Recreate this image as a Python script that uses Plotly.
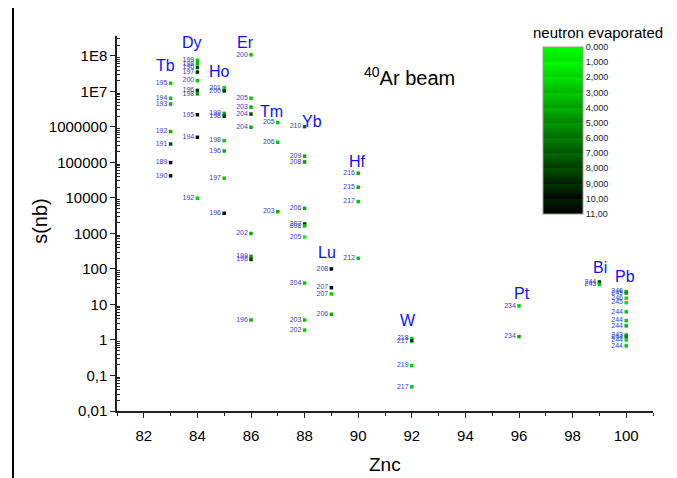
import plotly.graph_objects as go

# ---- data ----
z_nc = ([83]*7 + [84]*10 + [85]*8 + [86]*9 + [87]*3 + [88]*10 + [89]*4 + [90]*4
        + [92]*4 + [96]*2 + [99]*2 + [100]*11)

sigma_nb = [
    # Tb (83)
    1.7e7, 6.4e6, 4.4e6, 7.4e5, 3.3e5, 9.9e4, 4.2e4,
    # Dy (84)
    7.5e7, 6.0e7, 4.7e7, 3.5e7, 2.0e7, 1.07e7, 8.5e6, 2.2e6, 5.1e5, 9.8e3,
    # Ho (85)
    1.26e7, 1.03e7, 2.4e6, 2.0e6, 4.1e5, 2.1e5, 3.6e4, 3.7e3,
    # Er (86)
    1.07e8, 6.4e6, 3.6e6, 2.3e6, 9.8e5, 1.0e3, 225, 185, 3.66,
    # Tm (87)
    1.32e6, 3.7e5, 4.1e3,
    # Yb (88)
    1.02e6, 1.5e5, 1.03e5, 5.1e3, 1.85e3, 1.63e3, 796, 40, 3.66, 1.9,
    # Lu (89)
    100, 29.7, 19.8, 5.3,
    # Hf (90)
    4.97e4, 2.0e4, 7.9e3, 200,
    # W (92)
    1.1, 0.94, 0.19, 0.048,
    # Pt (96)
    9.1, 1.24,
    # Bi (99)
    43, 36.6,
    # Pb (100)
    23, 21, 15, 11.2, 6.2, 3.5, 2.5, 1.38, 1.22, 1.0, 0.68,
]

mass_labels = [
    "195", "194", "193", "192", "191", "189", "190",
    "199", "198", "196", "197", "200", "196", "198", "195", "194", "192",
    "201", "200", "199", "198", "198", "196", "197", "196",
    "200", "205", "203", "204", "204", "202", "199", "198", "196",
    "205", "206", "203",
    "210", "209", "208", "206", "207", "208", "205", "204", "203", "202",
    "208", "207", "207", "206",
    "216", "215", "217", "212",
    "218", "217", "219", "217",
    "234", "234",
    "244", "243",
    "246", "245", "246", "245", "244", "244", "244", "243", "244", "244", "244",
]

n_evaporated = [
    2, 2, 3, 3, 7, 10, 9,
    2, 3, 7, 8, 2, 8, 4, 10, 10, 2,
    2, 8, 3, 8, 2, 3, 2, 10,
    2, 2, 3, 7, 3, 3, 4, 8, 3,
    2, 2, 3,
    6, 3, 4, 3, 8, 2, 0, 2, 2, 2,
    10, 10, 2, 3,
    3, 3, 2, 2,
    2, 8, 2, 2,
    2, 3,
    8, 2,
    2, 4, 1, 1, 2, 2, 3, 3, 5, 1, 2,
]

elem_names = ["Tb", "Dy", "Ho", "Er", "Tm", "Yb", "Lu", "Hf", "W", "Pt", "Bi", "Pb"]
elem_x = [82.8, 83.8, 84.84, 85.81, 86.78, 88.28, 88.84, 89.96, 91.86, 96.11, 99.02, 99.96]
# label heights given as log10(s)
elem_logy = [7.72, 8.39, 7.55, 8.39, 6.42, 6.14, 2.45, 5.04, 0.56, 1.30, 2.03, 1.80]

y_tick_vals = [0.01, 0.1, 1, 10, 100, 1000, 1e4, 1e5, 1e6, 1e7, 1e8]
y_tick_text = ["0,01", "0,1", "1", "10", "100", "1000", "10000", "100000",
               "1000000", "1E7", "1E8"]
cbar_labels = ["0,000", "1,000", "2,000", "3,000", "4,000", "5,000", "6,000",
               "7,000", "8,000", "9,000", "10,00", "11,00"]

# ---- colours: 11 bands from bright green to black ----
band_green = [255, 230, 205, 180, 155, 130, 105, 80, 55, 30, 4]
palette = ["rgb(0,%d,0)" % g for g in band_green]
marker_colors = [palette[min(n, 10)] for n in n_evaporated]

colorscale = []
for k, c in enumerate(palette):
    lo = (10 - k) / 11
    hi = (11 - k) / 11
    colorscale.append([lo, c])
    colorscale.append([hi, c])
colorscale.sort(key=lambda p: p[0])

FONT = "Liberation Sans, Arial"

fig = go.Figure()

fig.add_trace(go.Scatter(
    x=z_nc, y=sigma_nb, mode="markers+text",
    marker=dict(symbol="square", size=3.5, color=marker_colors, line=dict(width=0)),
    text=mass_labels, textposition="middle left",
    textfont=dict(size=7, color="#3a3ad8", family=FONT),
    showlegend=False, hoverinfo="x+y+text", cliponaxis=False,
))

# dummy trace providing the colour bar
fig.add_trace(go.Scatter(
    x=[None], y=[None], mode="markers",
    marker=dict(color=[0], cmin=-11, cmax=0, colorscale=colorscale, showscale=True,
                colorbar=dict(
                    x=0.795, xanchor="left", y=0.971, yanchor="top",
                    len=167, lenmode="pixels", thickness=40, thicknessmode="pixels",
                    outlinewidth=1, outlinecolor="#999999",
                    tickmode="array", tickvals=[-k for k in range(12)],
                    ticktext=cbar_labels, ticks="",
                    tickfont=dict(size=9, color="#222222", family=FONT),
                    ypad=0, xpad=0,
                )),
    showlegend=False, hoverinfo="skip",
))

annotations = []
for name, ex, ey in zip(elem_names, elem_x, elem_logy):
    annotations.append(dict(x=ex, y=ey, yref="y", xref="x", text=name, showarrow=False,
                            font=dict(size=16, color="#1010ff", family=FONT)))
annotations.append(dict(x=91.93, y=7.41, xref="x", yref="y", text="<sup>40</sup>Ar beam",
                        showarrow=False, xanchor="center",
                        font=dict(size=20, color="black", family=FONT)))
annotations.append(dict(x=0.897, y=1.008, xref="paper", yref="paper",
                        text="neutron evaporated", showarrow=False, xanchor="center",
                        yanchor="middle", font=dict(size=15, color="black", family=FONT)))
# axis titles
annotations.append(dict(x=0.5, y=-0.144, xref="paper", yref="paper", text="Znc",
                        showarrow=False, xanchor="center", yanchor="middle",
                        font=dict(size=19, color="black", family=FONT)))
annotations.append(dict(x=-0.1437, y=0.507, xref="paper", yref="paper", text="s(nb)",
                        showarrow=False, xanchor="center", yanchor="middle", textangle=-90,
                        font=dict(size=20, color="black", family=FONT)))

minor_y = [m * 10**e for e in range(-2, 9) for m in range(2, 10) if m * 10**e < 10**8.56]

# the page adds an 8 px body margin, so the figure is shifted and sized accordingly
fig.update_layout(
    width=669, height=470,
    margin=dict(l=109, r=24, t=28, b=67, autoexpand=False),
    paper_bgcolor="white", plot_bgcolor="white",
    font=dict(family=FONT, color="black"),
    annotations=annotations,
    shapes=[dict(type="line", xref="paper", yref="paper", x0=-0.194, x1=-0.194,
                 y0=-0.2, y1=1.2, line=dict(color="black", width=2))],
    xaxis=dict(
        range=[81, 101], showgrid=False, zeroline=False, automargin=False,
        showline=True, linecolor="#222222", linewidth=1.5,
        tickmode="array", tickvals=list(range(82, 101, 2)),
        ticks="outside", ticklen=5, tickwidth=1.2, tickcolor="#222222",
        tickfont=dict(size=15), ticklabelstandoff=5,
        minor=dict(tickmode="array", tickvals=list(range(81, 102, 2)),
                   ticks="outside", ticklen=3, tickwidth=1, tickcolor="#222222"),
    ),
    yaxis=dict(
        type="log", range=[-2, 8.56], showgrid=False, zeroline=False, automargin=False,
        showline=True, linecolor="#222222", linewidth=1.5,
        tickmode="array", tickvals=y_tick_vals, ticktext=y_tick_text,
        ticks="outside", ticklen=5, tickwidth=1.2, tickcolor="#222222",
        tickfont=dict(size=15),
        minor=dict(tickmode="array", tickvals=minor_y,
                   ticks="inside", ticklen=3, tickwidth=0.8, tickcolor="#222222"),
    ),
)

fig.write_html("out.html")
